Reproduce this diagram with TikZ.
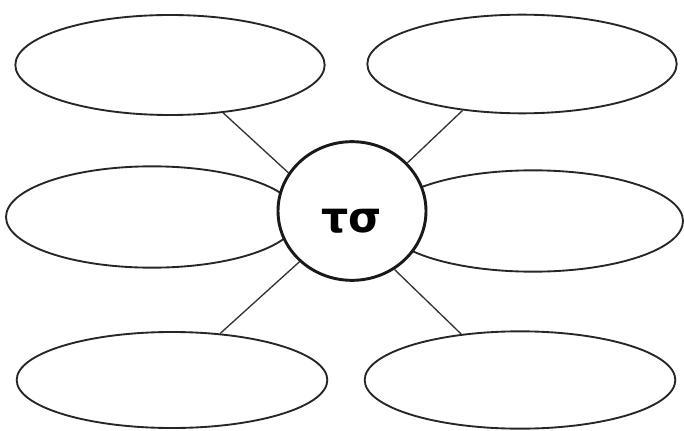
\documentclass[tikz,border=0pt]{standalone}
\usepackage{fontspec}
\newfontfamily\greekfont{DejaVu Sans}
\usetikzlibrary{shapes.geometric}
\begin{document}
\begin{tikzpicture}[
  x=0.75pt, y=-0.75pt,
  bubble/.style={draw=black!85, ellipse, line width=1.4pt, inner sep=0pt, fill=white},
  hub/.style={draw=black!90, ellipse, line width=2.2pt, inner sep=0pt, fill=white,
    minimum width=111pt, minimum height=104pt, font=\greekfont\bfseries\fontsize{32}{32}\selectfont},
  spoke/.style={draw=black!80, line width=1pt}
]
\useasboundingbox (0,0) rectangle (684,431);
\node[bubble, minimum width=232pt, minimum height=75pt] (tl) at (170,65) {};
\node[bubble, minimum width=232pt, minimum height=74pt] (tr) at (522,64) {};
\node[bubble, minimum width=219pt, minimum height=76pt] (ml) at (152,217) {};
\node[bubble, minimum width=225pt, minimum height=76pt] (mr) at (533,221) {};
\node[bubble, minimum width=233pt, minimum height=72pt] (bl) at (172,380) {};
\node[bubble, minimum width=233pt, minimum height=73pt] (br) at (520,380) {};
\node[hub] (c) at (352,211) {\raisebox{-16pt}[0pt][0pt]{τσ}};
\draw[spoke] (tl.-42) -- (c.149);
\draw[spoke] (tr.218) -- (c.41);
\draw[spoke] (bl.44) -- (c.224);
\draw[spoke] (br.142) -- (c.306);
\end{tikzpicture}
\end{document}
